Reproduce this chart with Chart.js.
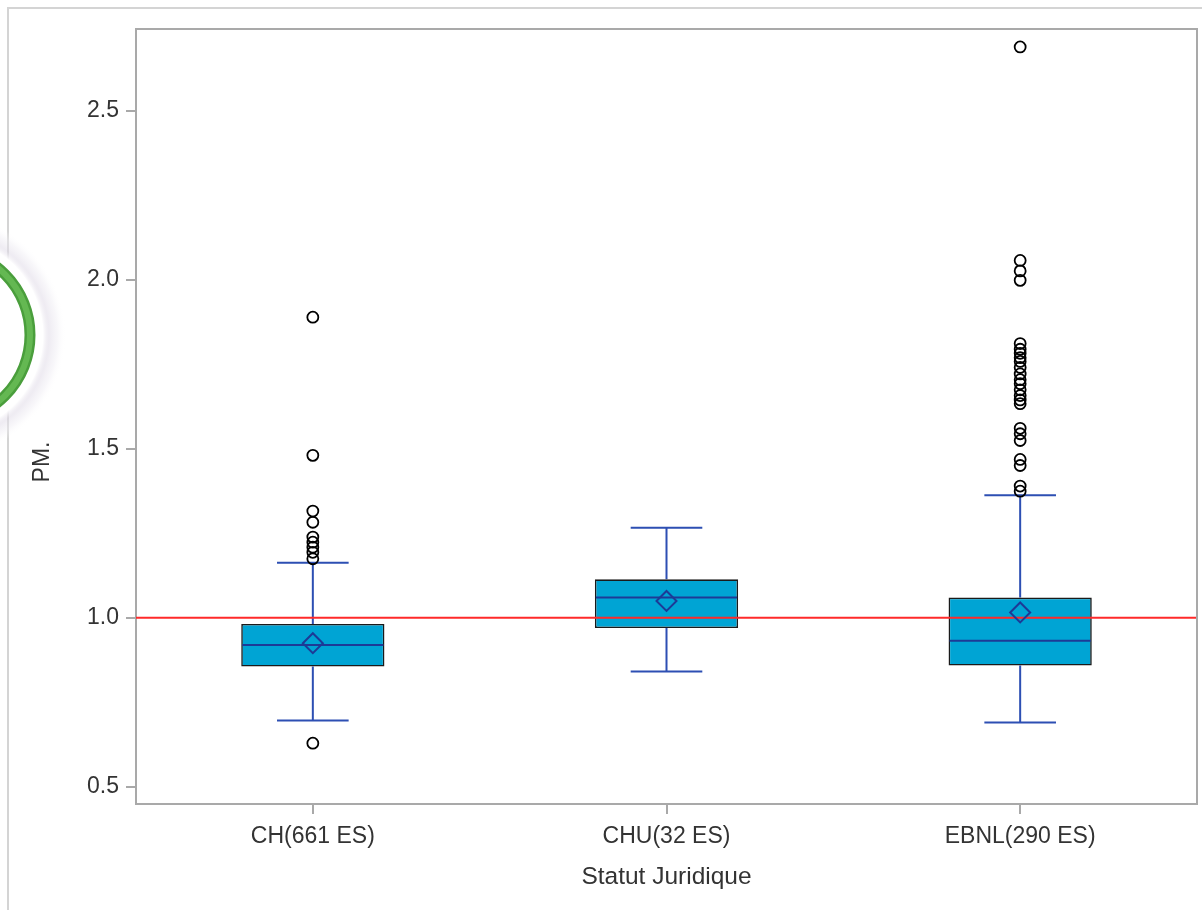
<!DOCTYPE html>
<html>
<head>
<meta charset="utf-8">
<script src="https://cdn.jsdelivr.net/npm/chart.js@4.4.1/dist/chart.umd.min.js"></script>
<style>
  html, body { margin: 0; padding: 0; background: #ffffff; overflow: hidden; }
  #wrap { width: 1202px; height: 910px; position: relative; }
</style>
</head>
<body>
<div id="wrap"><canvas id="c" width="1202" height="910"></canvas></div>
<script>
// Box plot of PM. by legal status
const categories = ['CH(661 ES)', 'CHU(32 ES)', 'EBNL(290 ES)'];
const q1Values = [0.856, 0.970, 0.859];
const q3Values = [0.982, 1.114, 1.060];
const medianValues = [0.920, 1.060, 0.932];
const meanValues = [0.925, 1.050, 1.016];
const whiskerLow = [0.696, 0.841, 0.690];
const whiskerHigh = [1.163, 1.267, 1.363];
const outliersCH = [0.629, 1.175, 1.194, 1.209, 1.224, 1.239, 1.283, 1.316, 1.481, 1.890];
const outliersCHU = [];
const outliersEBNL = [2.690, 2.058, 2.027, 1.999, 1.812, 1.795, 1.783, 1.770, 1.759, 1.741,
                      1.722, 1.705, 1.693, 1.675, 1.658, 1.645, 1.634, 1.561, 1.545, 1.525,
                      1.469, 1.451, 1.390, 1.375];
const yTickValues = [0.5, 1.0, 1.5, 2.0, 2.5];
const yMin = 0.449;
const yMax = 2.743;
const referenceValue = 1.0;
const xTitle = 'Statut Juridique';
const yTitle = 'PM.';

const FONT = 'Liberation Sans, Arial, sans-serif';
const TEXT = '#333333';
const AXIS = '#a9a9a9';
const WHISKER = '#2d4fb3';
const MEDIAN = '#1d3a96';

const outlierGroups = [outliersCH, outliersCHU, outliersEBNL];
const outlierPoints = [];
outlierGroups.forEach((list, i) => list.forEach(v => outlierPoints.push({ x: categories[i], y: v })));
const meanPoints = meanValues.map((v, i) => ({ x: categories[i], y: v }));

const boxParts = {
  id: 'boxParts',
  beforeDraw(chart) {
    const ctx = chart.ctx;
    ctx.save();
    ctx.fillStyle = '#ffffff';
    ctx.fillRect(0, 0, chart.width, chart.height);
    // page frame
    ctx.strokeStyle = '#d4d4d4';
    ctx.lineWidth = 2;
    ctx.beginPath();
    ctx.moveTo(8, chart.height);
    ctx.lineTo(8, 8);
    ctx.lineTo(chart.width, 8);
    ctx.stroke();
    ctx.restore();
  },
  beforeDatasetsDraw(chart) {
    const ctx = chart.ctx;
    const y = chart.scales.y;
    const a = chart.chartArea;
    const meta = chart.getDatasetMeta(0);
    ctx.save();
    // plot frame (top and right)
    ctx.strokeStyle = AXIS;
    ctx.lineWidth = 2;
    ctx.beginPath();
    ctx.moveTo(a.left, a.top);
    ctx.lineTo(a.right, a.top);
    ctx.lineTo(a.right, a.bottom);
    ctx.stroke();
    // whiskers and caps
    ctx.strokeStyle = WHISKER;
    ctx.lineWidth = 2;
    meta.data.forEach((bar, i) => {
      const cx = bar.x;
      const half = bar.width / 4;
      const yHi = y.getPixelForValue(whiskerHigh[i]);
      const yLo = y.getPixelForValue(whiskerLow[i]);
      const yQ3 = y.getPixelForValue(q3Values[i]);
      const yQ1 = y.getPixelForValue(q1Values[i]);
      ctx.beginPath();
      ctx.moveTo(cx, yQ3); ctx.lineTo(cx, yHi);
      ctx.moveTo(cx, yQ1); ctx.lineTo(cx, yLo);
      ctx.moveTo(cx - half, yHi); ctx.lineTo(cx + half, yHi);
      ctx.moveTo(cx - half, yLo); ctx.lineTo(cx + half, yLo);
      ctx.stroke();
    });
    ctx.restore();
  },
  afterDatasetDraw(chart, args) {
    if (args.index !== 0) return;
    const ctx = chart.ctx;
    const y = chart.scales.y;
    const a = chart.chartArea;
    const meta = chart.getDatasetMeta(0);
    ctx.save();
    ctx.strokeStyle = MEDIAN;
    ctx.lineWidth = 2;
    meta.data.forEach((bar, i) => {
      const ym = y.getPixelForValue(medianValues[i]);
      const hw = bar.width / 2;
      ctx.beginPath();
      ctx.moveTo(bar.x - hw + 1, ym);
      ctx.lineTo(bar.x + hw - 1, ym);
      ctx.stroke();
    });
    // reference line
    const yr = y.getPixelForValue(referenceValue);
    ctx.strokeStyle = '#ff2a2a';
    ctx.lineWidth = 2;
    ctx.beginPath();
    ctx.moveTo(a.left, yr);
    ctx.lineTo(a.right - 1, yr);
    ctx.stroke();
    ctx.restore();
  },
  afterDraw(chart) {
    const ctx = chart.ctx;
    ctx.save();
    // y axis title
    ctx.fillStyle = TEXT;
    ctx.font = '23px ' + FONT;
    ctx.textAlign = 'center';
    ctx.textBaseline = 'middle';
    ctx.translate(43, 462);
    ctx.rotate(-Math.PI / 2);
    ctx.fillText(yTitle, 0, 0);
    ctx.restore();

    // round badge at the left edge
    ctx.save();
    const bx = -56, by = 335;
    const halo = ctx.createRadialGradient(bx, by, 80, bx, by, 122);
    halo.addColorStop(0, 'rgba(255,255,255,1)');
    halo.addColorStop(0.45, 'rgba(255,255,255,1)');
    halo.addColorStop(0.6, 'rgba(225,220,232,0.55)');
    halo.addColorStop(0.8, 'rgba(240,238,244,0.45)');
    halo.addColorStop(1, 'rgba(255,255,255,0)');
    ctx.fillStyle = halo;
    ctx.beginPath();
    ctx.arc(bx, by, 122, 0, Math.PI * 2);
    ctx.fill();
    ctx.fillStyle = '#ffffff';
    ctx.beginPath();
    ctx.arc(bx, by, 96, 0, Math.PI * 2);
    ctx.fill();
    ctx.strokeStyle = '#4a9e3c';
    ctx.lineWidth = 11;
    ctx.beginPath();
    ctx.arc(bx, by, 86, 0, Math.PI * 2);
    ctx.stroke();
    ctx.strokeStyle = '#64b852';
    ctx.lineWidth = 6;
    ctx.beginPath();
    ctx.arc(bx, by, 86, 0, Math.PI * 2);
    ctx.stroke();
    ctx.restore();
  }
};

new Chart(document.getElementById('c'), {
  type: 'bar',
  data: {
    labels: categories,
    datasets: [
      {
        type: 'bar',
        label: 'box',
        data: q1Values.map((v, i) => [v, q3Values[i]]),
        backgroundColor: '#00a4d4',
        borderColor: '#1a1a1a',
        borderWidth: 1.6,
        borderSkipped: false,
        barPercentage: 0.405,
        categoryPercentage: 1.0,
        order: 3
      },
      {
        type: 'line',
        label: 'mean',
        data: meanPoints,
        showLine: false,
        pointStyle: 'rectRot',
        pointRadius: 10,
        pointBorderWidth: 2,
        pointBorderColor: MEDIAN,
        pointBackgroundColor: 'rgba(0,0,0,0)',
        order: 2
      },
      {
        type: 'line',
        label: 'outliers',
        data: outlierPoints,
        showLine: false,
        pointStyle: 'circle',
        pointRadius: 5.5,
        pointBorderWidth: 1.8,
        pointBorderColor: '#000000',
        pointBackgroundColor: 'rgba(0,0,0,0)',
        order: 1
      }
    ]
  },
  options: {
    responsive: false,
    animation: false,
    devicePixelRatio: 1,
    layout: { autoPadding: false, padding: { left: 0, top: 29, right: 5, bottom: 0 } },
    plugins: { legend: { display: false }, tooltip: { enabled: false } },
    scales: {
      x: {
        type: 'category',
        offset: true,
        grid: { display: true, drawOnChartArea: false, drawTicks: true, tickLength: 10, color: AXIS, offset: false, lineWidth: 2 },
        border: { display: true, color: AXIS, width: 2 },
        ticks: { color: TEXT, font: { family: FONT, size: 23 }, padding: 9 },
        title: { display: true, text: xTitle, color: TEXT, font: { family: FONT, size: 24.5 }, padding: { top: 4, bottom: 18 } },
        afterFit(scale) { scale.height = 106; scale.paddingLeft = 0; scale.paddingRight = 0; }
      },
      y: {
        type: 'linear',
        min: yMin,
        max: yMax,
        grid: { display: true, drawOnChartArea: false, drawTicks: true, tickLength: 10, color: AXIS, lineWidth: 2 },
        border: { display: true, color: AXIS, width: 2 },
        ticks: { color: TEXT, font: { family: FONT, size: 23 }, padding: 7, callback: v => Number(v).toFixed(1) },
        afterBuildTicks(scale) { scale.ticks = yTickValues.map(v => ({ value: v })); },
        afterFit(scale) { scale.width = 136; scale.paddingTop = 0; scale.paddingBottom = 0; }
      }
    }
  },
  plugins: [boxParts]
});
</script>
</body>
</html>
